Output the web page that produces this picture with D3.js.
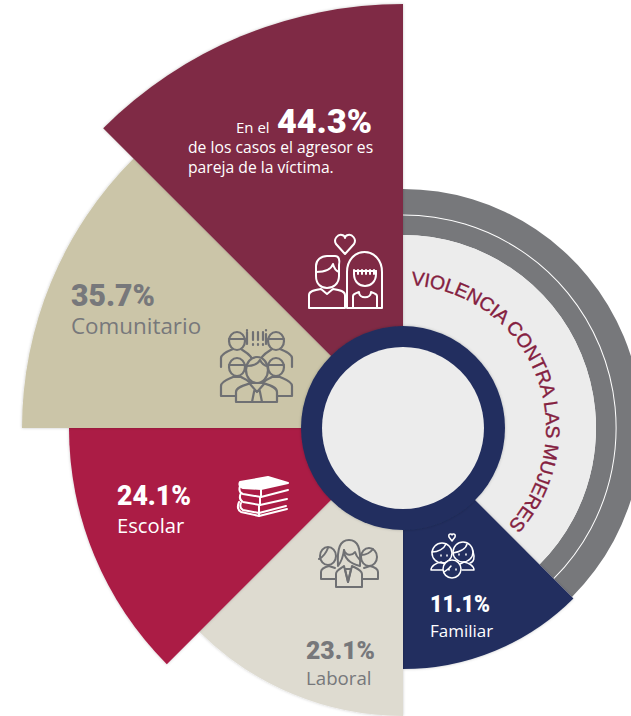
<!DOCTYPE html>
<html lang="es">
<head>
<meta charset="utf-8">
<script src="https://cdn.jsdelivr.net/npm/d3@7"></script>
<style>
html,body{margin:0;padding:0;background:#fff;overflow:hidden}
svg{display:block}
text{font-family:"Open Sans",Lato,sans-serif}
.pct{font-family:Roboto,"Open Sans",sans-serif;font-weight:900}
</style>
</head>
<body>
<svg id="chart" width="631" height="716"></svg>
<script>
// DATA
const categories = ["Pareja", "Comunitario", "Escolar", "Laboral", "Familiar"];
const percentages = [44.3, 35.7, 24.1, 23.1, 11.1];
const heading = "VIOLENCIA CONTRA LAS MUJERES";
const leadIn = "En el";
const partnerNote = ["de los casos el agresor es", "pareja de la víctima."];

// STYLE
const sliceColors = ["#7f2c44", "#cbc5a8", "#ab1a45", "#dedbd0", "#222f5f"];
const inkColors = ["#fff", "#77787b", "#fff", "#77787b", "#fff"];
const grey = "#77787b", pale = "#ececec", navy = "#222f5f";
const sliceRadii = [424, 381, 334, 288, 241];

const cx = 403, cy = 428;
const svg = d3.select("#chart");
const defs = svg.append("defs");
const f = defs.append("filter").attr("id","soft").attr("x","-10%").attr("y","-10%").attr("width","120%").attr("height","120%");
f.append("feDropShadow").attr("dx",0).attr("dy",0).attr("stdDeviation",1.6).attr("flood-color","#000").attr("flood-opacity",0.22);

const root = svg.append("g").attr("transform",`translate(${cx},${cy})`);
const deg = d => d * Math.PI / 180;
const arc = d3.arc();

// Radius follows the rank of the category: the picture steps down, it is not proportional.
const radius = d3.scaleOrdinal().domain(categories).range(sliceRadii);

// Right-hand panel
const panelEnd = deg(135);
root.append("path").attr("d", arc({innerRadius:193,outerRadius:239,startAngle:0,endAngle:panelEnd})).attr("fill",grey);
root.append("path").attr("d", arc({innerRadius:212.6,outerRadius:213.6,startAngle:0,endAngle:panelEnd})).attr("fill","#fff");
root.append("path").attr("d", arc({innerRadius:0,outerRadius:193,startAngle:0,endAngle:panelEnd})).attr("fill",pale);

// Slices, equal angle, anticlockwise from 12 o'clock
const pie = d3.pie().value(() => 1).sort(null).startAngle(0).endAngle(deg(-225));
const slices = pie(percentages.map((v,i)=>({v,i,name:categories[i]})));
root.selectAll("path.slice").data(slices.slice().reverse()).join("path")
  .attr("class","slice")
  .attr("fill",d=>sliceColors[d.data.i])
  .attr("filter","url(#soft)")
  .attr("d",d=>arc({innerRadius:0,outerRadius:radius(d.data.name),startAngle:d.startAngle,endAngle:d.endAngle}));

// Hub
root.append("circle").attr("r",102).attr("fill",navy).attr("filter","url(#soft)");
root.append("circle").attr("r",81).attr("fill",pale);

// Curved heading
const hp = d3.path(); hp.arc(cx,cy,143,deg(-90+3.2),deg(-90+145));
defs.append("path").attr("id","headPath").attr("d",hp.toString());
svg.append("text").attr("font-size",19.4).attr("fill","#84203f")
  .attr("stroke","#84203f").attr("stroke-width",0.35)
  .style("font-family","'Liberation Sans',Arial,sans-serif")
  .append("textPath").attr("href","#headPath")
  .attr("textLength",323).attr("lengthAdjust","spacing").text(heading);

// Labels
const pct = v => v.toFixed(1) + "%";
const labelStyle = [
  null,
  {x:71,yP:306,yN:334,fP:31,wP:84,fN:22.4},
  {x:117,yP:505,yN:533,fP:28,wP:74,fN:20.2},
  {x:306,yP:659,yN:685,fP:26.5,wP:69,fN:18.7},
  {x:430,yP:612,yN:637,fP:24,wP:60,fN:17}
];
labelStyle.forEach((s,i)=>{
  if(!s) return;
  svg.append("text").attr("class","pct").attr("x",s.x).attr("y",s.yP).attr("font-size",s.fP).attr("fill",inkColors[i])
    .attr("textLength",s.wP).attr("lengthAdjust","spacingAndGlyphs").text(pct(percentages[i]));
  svg.append("text").attr("x",s.x).attr("y",s.yN).attr("font-size",s.fN).attr("fill",inkColors[i]).text(categories[i]);
});
svg.append("text").attr("x",236).attr("y",133).attr("font-size",15).attr("fill","#fff").text(leadIn);
svg.append("text").attr("class","pct").attr("x",277).attr("y",133).attr("font-size",34).attr("fill","#fff")
  .attr("textLength",95).attr("lengthAdjust","spacingAndGlyphs").text(pct(percentages[0]));
partnerNote.forEach((t,i)=>svg.append("text").attr("x",188).attr("y",153+i*20).attr("font-size",15.7).attr("fill","#fff").text(t));

// Icons
function icon(color, width){
  return svg.append("g").attr("fill","none").attr("stroke",color).attr("stroke-width",width)
    .attr("stroke-linejoin","round").attr("stroke-linecap","round");
}
function paths(g, list, fill){ list.forEach(d=>g.append("path").attr("d",d).attr("fill",fill||"none")); }
function head(g, x, y, rx, ry, fill){ g.append("ellipse").attr("cx",x).attr("cy",y).attr("rx",rx).attr("ry",ry).attr("fill",fill||"none"); }

// Couple
const c = icon("#fff",2).attr("transform","translate(309,234)");
paths(c,[
 "M36 20 L27 10 C24 5 29 0 33 1 C35 1.5 36 3 36 4 C36 3 37 1.5 39 1 C43 0 48 5 45 10 Z",
 "M0 74 V61 C0 57 5 56 12 55 L18 60 L24 55 C31 56 36 57 36 61 V74 Z",
 "M7 32 C7 26 12 22 18 22 L26 22 C30 22 31 26 30 31 L30 42 C30 50 24 54 18 54 C12 54 7 50 7 42 Z",
 "M7 38 C14 38 22 36 24 30 C25 34 27 37 30 38",
 "M38 74 V38 C38 26 46 18 55.5 18 C65 18 73 26 73 38 V74 Z",
 "M44 74 V62 C44 60 47 59 50 58 C50 65 62 65 62 58 C65 59 68 60 68 62 V74",
 "M45 36 V40 M49 36 V40 M53 36 V40 M57 36 V40 M61 36 V40 M65 36 V40 M45 37 H67",
 "M45 40 C45 56 67 56 67 40 V37"
]);

// Group
const gInk = "#6f7073", gBg = sliceColors[1];
const g = icon(gInk,2.2);
paths(g,[
 "M221 367 V358 C221 354 228 351 233 349 M253 362 C252 354 243 351 241 349",
 "M292 367 V358 C292 354 285 351 280 349 M260 362 C261 354 270 351 272 349",
 "M247 332 V344 M253 332 V340 M253 344 V345 M258 332 V340 M258 344 V345 M263 332 V340 M263 344 V345",
 "M247 330 V330.5 M266 330 V330.5 M266 334 V344"
]);
head(g,237,341,8,9,gBg); head(g,276,341,8,9,gBg);
paths(g,["M229 339 H245","M268 339 H284"]);
paths(g,[
 "M221 396 V386 C221 381 229 379 233 377 L241 377 C245 379 251 381 252 386 V396 Z",
 "M292 396 V386 C292 381 284 379 280 377 L272 377 C268 379 262 381 261 386 V396 Z"
],gBg);
head(g,237,367,8,9,gBg); head(g,276,367,8,9,gBg);
paths(g,["M229 365 H245","M268 365 H284"]);
paths(g,["M236 402 V392 C236 387 245 385 251 383 L263 383 C269 385 277 387 277 392 V402 Z"],gBg);
head(g,257,370,11,13,gBg);
paths(g,["M246 366 C252 366 258 364 260 360 C262 364 265 366 268 366",
 "M250 384 L257 392 L264 384 M254 392 L252 402 M260 392 L262 402 M254 391 H260"]);

// Books
const b = icon("#fff",2);
paths(b,["M240 482 L268 477 L288 483 L261 489 L243 488 Q238 486 240 482 Z"],"#fff");
paths(b,[
 "M240 486 Q238 492 243 494 L261 497 L288 490",
 "M261 489 V497",
 "M241 493 Q238 499 243 502 L260 505 L287 499",
 "M260 497 V505",
 "M239 502 Q236 509 241 512 L259 516 L287 509",
 "M241 503 Q239 508 243 510 L259 513 L286 506",
 "M259 506 V516"
]);

// Laboral
const l = icon(gInk,2);
paths(l,["M321 579 V572 C321 569 325 567 329 566 L335 568 M321 579 H337"]);
head(l,328,556,8,9);
paths(l,["M319 559 C323 557 326 553 328 548"]);
paths(l,["M378 579 V572 C378 569 374 567 370 566 L364 568 M378 579 H362"]);
head(l,369,557,8,9);
paths(l,["M361 555 C366 555 370 553 373 549"]);
paths(l,["M336 587 V574 C336 570 342 568 344 566 L348 582 L352 566 C356 568 362 570 362 574 V587 Z"],sliceColors[3]);
paths(l,["M338 566 C337 548 340 540 349 540 C358 540 361 548 360 566 C352 564 344 560 344 550 C343 558 341 562 338 566 Z","M344 550 C346 556 352 556 355 552 C356 556 358 558 360 560"],sliceColors[3]);
paths(l,["M345 569 L348 582 L351 569 M345 569 H351"]);

// Family
const fam = icon("#fff",1.5);
paths(fam,["M452 541 L449 537 C448 534 451 533 452 535 C453 533 456 534 455 537 Z"]);
paths(fam,[
 "M431 570 C431 566 436 563 441 562 L447 565 M431 570 H443",
 "M474 570 C474 566 469 563 464 562 L458 565 M474 570 H462"]);
head(fam,442,553,10,10); head(fam,463,552,10,10);
paths(fam,["M432 552 C438 552 444 549 446 544","M453 553 C459 552 466 549 467 544 M473 551 C475 558 474 562 470 563"]);
head(fam,452,569,9,9,navy);
paths(fam,["M441 555 V556 M447 555 V556 M459 554 V555 M466 554 V555 M449 569 V570 M456 569 V570 M444 572 C447 570 449 569 451 566"]);
</script>
</body>
</html>
